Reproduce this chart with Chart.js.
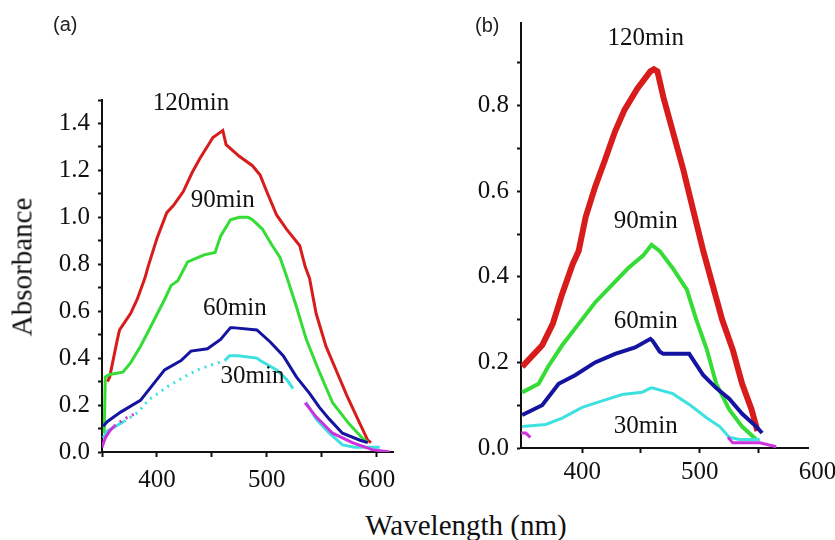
<!DOCTYPE html>
<html>
<head>
<meta charset="utf-8">
<script src="https://cdn.jsdelivr.net/npm/chart.js@4"></script>
<style>
  body { margin: 0; background: #fff; width: 835px; height: 540px; position: relative; overflow: hidden; }
  canvas { position: absolute; top: 0; }
  .tag { position: absolute; font-family: "Liberation Sans", Arial, sans-serif; font-size: 20px; color: #222; }
  .axt { position: absolute; font-family: "Liberation Serif", "Times New Roman", serif; font-size: 29px; color: #111; white-space: nowrap; }
</style>
</head>
<body>
<canvas id="chartA" style="left:0" width="415" height="500"></canvas>
<canvas id="chartB" style="left:415px" width="420" height="500"></canvas>
<div class="tag" style="left:53px;top:13px">(a)</div>
<div class="tag" style="left:475px;top:14px">(b)</div>
<div class="axt" style="left:22px;top:267px;transform:translate(-50%,-50%) rotate(-90deg)">Absorbance</div>
<div class="axt" style="left:466px;top:525px;transform:translate(-50%,-50%)">Wavelength (nm)</div>
<script>
// panel (a)
const aWave120 = [355,357,364,366,376,382,389,392,400,409,415,424,432,439,451,457,460,463,475,487,494,500,509,518,530,535,539,545,554,564,573,582,592,595];
const aAbs120  = [0.30,0.32,0.48,0.52,0.59,0.65,0.74,0.79,0.91,1.02,1.05,1.11,1.19,1.25,1.34,1.36,1.37,1.31,1.26,1.22,1.18,1.11,1.01,0.95,0.88,0.79,0.74,0.59,0.45,0.34,0.24,0.15,0.05,0.04];
const aWave90 = [352,353,357,369,376,385,395,407,413,419,428,443,453,458,467,475,483,487,496,505,512,518,527,536,548,560,575,587,592];
const aAbs90  = [0.08,0.32,0.33,0.34,0.38,0.45,0.54,0.65,0.71,0.73,0.81,0.84,0.85,0.92,0.99,1.00,1.00,0.99,0.95,0.88,0.83,0.75,0.62,0.48,0.34,0.21,0.12,0.06,0.04];
const aWave60 = [351,355,367,385,407,422,431,446,458,467,469,491,503,515,527,539,548,557,569,585,592];
const aAbs60  = [0.11,0.13,0.17,0.22,0.35,0.39,0.43,0.44,0.48,0.53,0.53,0.52,0.47,0.41,0.32,0.25,0.19,0.14,0.08,0.05,0.04];
const aWave30 = [351,355,370,383,392,410,425,437,449,462,466,474,491,494,509,518,524,528,536,545,557,569,580,591,603];
const aAbs30  = [0.06,0.09,0.13,0.17,0.22,0.28,0.32,0.35,0.37,0.39,0.41,0.41,0.40,0.39,0.35,0.31,0.27,null,0.21,0.14,0.08,0.03,0.02,0.02,0.02];
const aWaveBase = [350,353,357,361,370,383,460,535,545,560,578,596,612];
const aAbsBase  = [0.02,0.06,0.09,0.11,0.14,0.17,null,0.21,0.15,0.08,0.04,0.01,0.00];

// panel (b)
const bWave120 = [349,366,375,383,392,397,403,411,419,428,436,447,458,461,464,469,477,486,494,503,511,519,528,536,544,549];
const bAbs120  = [0.19,0.24,0.29,0.36,0.43,0.46,0.54,0.61,0.67,0.74,0.79,0.84,0.88,0.885,0.88,0.82,0.74,0.65,0.56,0.46,0.38,0.30,0.23,0.15,0.09,0.04];
const bWave90 = [349,363,371,383,397,411,425,439,452,459,466,477,489,497,506,514,525,536,548];
const bAbs90  = [0.13,0.15,0.19,0.24,0.29,0.34,0.38,0.42,0.45,0.475,0.46,0.42,0.37,0.30,0.23,0.15,0.09,0.05,0.02];
const bWave60 = [349,366,380,394,411,428,445,458,460,466,469,491,503,514,525,536,548,553];
const bAbs60  = [0.077,0.10,0.15,0.17,0.20,0.22,0.235,0.255,0.25,0.225,0.22,0.22,0.17,0.14,0.115,0.08,0.05,0.035];
const bWave30 = [349,369,383,400,417,434,451,458,460,477,492,506,517,525,534,551];
const bAbs30  = [0.05,0.055,0.07,0.095,0.11,0.125,0.13,0.14,0.14,0.127,0.10,0.07,0.05,0.025,0.02,0.02];
const bWaveBase = [348,352,356,450,524,528,551,565];
const bAbsBase  = [0.035,0.035,0.025,null,0.025,0.012,0.012,0.003];

const tagText = ['120min', '90min', '60min', '30min'];
const aTagX = [431, 460, 471, 487];
const aTagY = [1.485, 1.07, 0.612, 0.321];
const bTagX = [454, 454, 454, 454];
const bTagY = [0.956, 0.529, 0.295, 0.051];

const aXTicks = [350, 400, 450, 500, 550, 600];
const bXTicks = [400, 450, 500, 550];
const xLabelled = [400, 500, 600];
const aYTicks = [0, 0.1, 0.2, 0.3, 0.4, 0.5, 0.6, 0.7, 0.8, 0.9, 1.0, 1.1, 1.2, 1.3, 1.4, 1.5];
const aYLabelled = [0, 0.2, 0.4, 0.6, 0.8, 1.0, 1.2, 1.4];
const bYTicks = [0, 0.1, 0.2, 0.3, 0.4, 0.5, 0.6, 0.7, 0.8, 0.9];
const bYLabelled = [0, 0.2, 0.4, 0.6, 0.8];

const serif = '"Liberation Serif", "Times New Roman", serif';
const RED = '#d81c1c', GREEN = '#36dc36', BLUE = '#1414a0', CYAN = '#3ee0e0', MAGENTA = '#cc33dd';

const pts = (xs, ys) => xs.map((x, i) => ({ x, y: ys[i] }));
const near = (v, list) => list.some(l => Math.abs(l - v) < 1e-6);

function line(xs, ys, color, width, dashFrom, dashTo) {
  const ds = { data: pts(xs, ys), borderColor: color, borderWidth: width, pointRadius: 0, tension: 0, fill: false };
  if (dashFrom !== undefined) {
    ds.segment = { borderDash: c => (c.p0.parsed.x >= dashFrom && c.p1.parsed.x <= dashTo ? [2, 5] : undefined) };
  }
  return ds;
}

const tagPlugin = {
  id: 'tags',
  afterDatasetsDraw(chart, args, opts) {
    const { ctx, scales: { x, y } } = chart;
    ctx.save();
    ctx.font = '25px ' + serif;
    ctx.fillStyle = '#111';
    ctx.textAlign = 'center';
    ctx.textBaseline = 'middle';
    tagText.forEach((t, i) => ctx.fillText(t, x.getPixelForValue(opts.xs[i]), y.getPixelForValue(opts.ys[i])));
    if (opts.extra) {
      const items = x.getLabelItems ? x.getLabelItems() : [];
      const ref = items.find(it => it.label === '400');
      let py = x.top + 30, base = 'middle';
      if (ref) { py = ref.options.translation[1] + ref.textOffset; base = ref.options.textBaseline; }
      ctx.textBaseline = base;
      ctx.fillText(String(opts.extra), x.getPixelForValue(opts.extra), py);
    }
    ctx.restore();
  }
};

function makePanel(id, datasets, cfg) {
  new Chart(document.getElementById(id), {
    type: 'line',
    data: { datasets },
    plugins: [tagPlugin],
    options: {
      responsive: false,
      animation: false,
      layout: { padding: cfg.padding },
      plugins: { legend: { display: false }, tooltip: { enabled: false }, tags: cfg.tags },
      scales: {
        x: {
          type: 'linear', min: cfg.xMin, max: cfg.xMax,
          afterBuildTicks: s => { s.ticks = cfg.xTicks.map(v => ({ value: v })); },
          afterFit: s => { s.height = cfg.xHeight; },
          grid: { drawOnChartArea: false, tickLength: 5, tickWidth: 2, tickColor: '#111' },
          border: { color: '#111', width: 2 },
          ticks: {
            autoSkip: false, maxRotation: 0, color: '#111', padding: cfg.xPad,
            font: { family: serif, size: 25 },
            callback: v => (near(v, xLabelled) ? String(v) : '')
          }
        },
        y: {
          min: 0, max: cfg.yMax,
          afterBuildTicks: s => { s.ticks = cfg.yTicks.map(v => ({ value: v })); },
          afterFit: s => { s.width = cfg.yWidth; },
          grid: { drawOnChartArea: false, tickLength: 4, tickWidth: 2, tickColor: '#111' },
          border: { color: '#111', width: 2 },
          ticks: {
            autoSkip: false, color: '#111', padding: 8,
            font: { family: serif, size: 25 },
            callback: v => (near(v, cfg.yLabelled) ? v.toFixed(1) : '')
          }
        }
      }
    }
  });
}

makePanel('chartA', [
  line(aWaveBase, aAbsBase, MAGENTA, 3, 361, 384),
  line(aWave30, aAbs30, CYAN, 3, 370, 463),
  line(aWave60, aAbs60, BLUE, 3),
  line(aWave90, aAbs90, GREEN, 3),
  line(aWave120, aAbs120, RED, 3)
], {
  padding: { top: 100, right: 22, left: 0, bottom: 0 },
  xMin: 350, xMax: 615, xTicks: aXTicks, xHeight: 48, xPad: 8,
  yMax: 1.5, yTicks: aYTicks, yLabelled: aYLabelled, yWidth: 102,
  tags: { xs: aTagX, ys: aTagY }
});

makePanel('chartB', [
  line(bWaveBase, bAbsBase, MAGENTA, 3),
  line(bWave30, bAbs30, CYAN, 3),
  line(bWave60, bAbs60, BLUE, 4),
  line(bWave90, bAbs90, GREEN, 4),
  line(bWave120, bAbs120, RED, 6)
], {
  padding: { top: 20, right: 27, left: 0, bottom: 0 },
  xMin: 348, xMax: 592, xTicks: bXTicks, xHeight: 52, xPad: 4,
  yMax: 0.993, yTicks: bYTicks, yLabelled: bYLabelled, yWidth: 106,
  tags: { xs: bTagX, ys: bTagY, extra: 600 }
});
</script>
</body>
</html>
